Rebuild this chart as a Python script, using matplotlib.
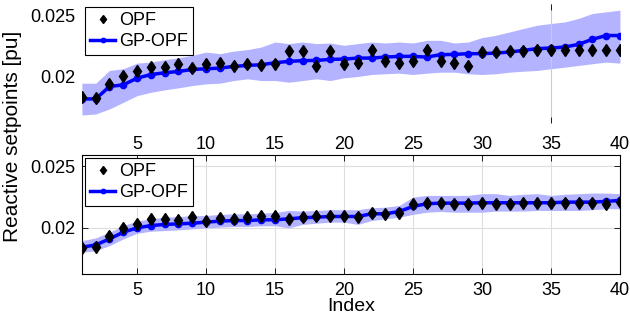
import numpy as np
import matplotlib
matplotlib.use("Agg")
import matplotlib.pyplot as plt

plt.rcParams['font.family'] = ['Liberation Sans', 'DejaVu Sans']

idx = np.arange(1, 41)
xticks = [5, 10, 15, 20, 25, 30, 35, 40]
yticks = [0.02, 0.025]
yticklabels = ['0.02', '0.025']

# upper panel
opf_top = [0.01836, 0.01825, 0.01940, 0.02006, 0.02041, 0.02076, 0.02076, 0.02098, 0.02068, 0.02104,
           0.02109, 0.02082, 0.02104, 0.02093, 0.02104, 0.02205, 0.02208, 0.02088, 0.02208, 0.02104,
           0.02109, 0.02213, 0.02123, 0.02112, 0.02123, 0.02213, 0.02129, 0.02112, 0.02088, 0.02202,
           0.02197, 0.02211, 0.02211, 0.02213, 0.02213, 0.02213, 0.02213, 0.02216, 0.02213, 0.02213]
gp_top = [0.01817, 0.01817, 0.01918, 0.01932, 0.01986, 0.02016, 0.02030, 0.02041, 0.02057, 0.02063,
          0.02068, 0.02082, 0.02090, 0.02096, 0.02112, 0.02123, 0.02129, 0.02131, 0.02139, 0.02142,
          0.02150, 0.02150, 0.02158, 0.02164, 0.02164, 0.02158, 0.02178, 0.02180, 0.02186, 0.02186,
          0.02191, 0.02199, 0.02213, 0.02227, 0.02232, 0.02240, 0.02262, 0.02303, 0.02334, 0.02334]
up_top = [0.01945, 0.01945, 0.02049, 0.02063, 0.02109, 0.02117, 0.02137, 0.02153, 0.02172, 0.02199,
          0.02186, 0.02207, 0.02219, 0.02240, 0.02281, 0.02268, 0.02281, 0.02268, 0.02273, 0.02254,
          0.02268, 0.02281, 0.02273, 0.02281, 0.02273, 0.02295, 0.02295, 0.02273, 0.02281, 0.02317,
          0.02336, 0.02363, 0.02391, 0.02418, 0.02432, 0.02445, 0.02473, 0.02514, 0.02527, 0.02541]
lo_top = [0.01686, 0.01694, 0.01735, 0.01789, 0.01844, 0.01871, 0.01891, 0.01907, 0.01926, 0.01940,
          0.01945, 0.01967, 0.01981, 0.01967, 0.01967, 0.01953, 0.01967, 0.01981, 0.01967, 0.01989,
          0.02000, 0.02016, 0.02022, 0.02027, 0.02016, 0.02027, 0.02035, 0.02035, 0.02022, 0.02016,
          0.02022, 0.02035, 0.02043, 0.02049, 0.02063, 0.02076, 0.02090, 0.02104, 0.02117, 0.02109]

# lower panel
opf_bot = [0.01830, 0.01839, 0.01929, 0.01994, 0.02025, 0.02066, 0.02071, 0.02063, 0.02084, 0.02057,
           0.02076, 0.02071, 0.02084, 0.02090, 0.02090, 0.02071, 0.02084, 0.02096, 0.02098, 0.02093,
           0.02086, 0.02117, 0.02112, 0.02117, 0.02189, 0.02199, 0.02199, 0.02194, 0.02194, 0.02199,
           0.02194, 0.02194, 0.02199, 0.02199, 0.02199, 0.02199, 0.02199, 0.02199, 0.02194, 0.02207]
gp_bot = [0.01839, 0.01858, 0.01907, 0.01962, 0.01997, 0.02016, 0.02025, 0.02030, 0.02035, 0.02044,
          0.02052, 0.02057, 0.02057, 0.02063, 0.02063, 0.02071, 0.02080, 0.02084, 0.02090, 0.02090,
          0.02090, 0.02112, 0.02112, 0.02131, 0.02172, 0.02194, 0.02199, 0.02199, 0.02199, 0.02202,
          0.02202, 0.02202, 0.02202, 0.02202, 0.02202, 0.02207, 0.02207, 0.02207, 0.02213, 0.02221]
up_bot = [0.01893, 0.01915, 0.01962, 0.02016, 0.02052, 0.02071, 0.02084, 0.02090, 0.02096, 0.02098,
          0.02107, 0.02112, 0.02112, 0.02117, 0.02123, 0.02139, 0.02134, 0.02139, 0.02145, 0.02145,
          0.02145, 0.02161, 0.02166, 0.02180, 0.02248, 0.02262, 0.02262, 0.02262, 0.02262, 0.02276,
          0.02276, 0.02262, 0.02271, 0.02276, 0.02262, 0.02271, 0.02276, 0.02281, 0.02281, 0.02276]
lo_bot = [0.01798, 0.01811, 0.01852, 0.01907, 0.01953, 0.01970, 0.01975, 0.01981, 0.01989, 0.01997,
          0.02003, 0.02008, 0.02008, 0.02014, 0.02014, 0.01997, 0.02025, 0.02035, 0.02044, 0.02044,
          0.02025, 0.02057, 0.02071, 0.02084, 0.02107, 0.02125, 0.02131, 0.02125, 0.02125, 0.02125,
          0.02134, 0.02134, 0.02134, 0.02139, 0.02139, 0.02139, 0.02139, 0.02145, 0.02153, 0.02153]

fig = plt.figure(figsize=(6.3, 3.18), dpi=100)
ax1 = fig.add_axes([0.130, 0.613, 0.854, 0.374])
ax2 = fig.add_axes([0.130, 0.138, 0.854, 0.374])

fs = 13
panels = [(ax1, opf_top, gp_top, up_top, lo_top), (ax2, opf_bot, gp_bot, up_bot, lo_bot)]
for ax, opf, gp, up, lo in panels:
    ax.fill_between(idx, lo, up, color=(0.7, 0.7, 1.0), lw=0, zorder=1)
    ax.plot(idx, opf, 'd', color='k', ms=6.5, label='OPF', zorder=4)
    ax.plot(idx, gp, '-o', color='b', lw=2.5, ms=4.5, label='GP-OPF', zorder=3)
    ax.set_xlim(1, 40)
    ax.set_ylim(0.0162, 0.0259)
    ax.set_xticks(xticks)
    ax.set_yticks(yticks)
    ax.set_yticklabels(yticklabels)
    ax.tick_params(labelsize=fs, direction='in', length=4, width=0.6,
                   top=True, right=True)
    ax.tick_params(axis='x', pad=9)
    ax.tick_params(axis='y', pad=5)
    leg = ax.legend(loc='upper left', fontsize=fs, handlelength=1.4, handletextpad=0.2,
                    borderaxespad=0.15, borderpad=0.3, labelspacing=0.2, fancybox=False,
                    framealpha=1, edgecolor='k', markerscale=0.7)
    leg.get_frame().set_linewidth(0.8)

# upper panel: no box, only the grid line at 35 survives
for s in ax1.spines.values():
    s.set_visible(False)
ax1.grid(True, axis='x', color='0.8', lw=0.8)
for t, v in zip(ax1.xaxis.get_major_ticks(), xticks):
    t.gridline.set_visible(v == 35)
    t.tick1line.set_visible(v == 35)
    t.tick2line.set_visible(v == 35)
for t in ax1.yaxis.get_major_ticks():
    t.tick1line.set_visible(False)
    t.tick2line.set_visible(False)

# lower panel: full box with grid
ax2.grid(True, color='0.87', lw=0.8)
ax2.set_axisbelow(True)
for s in ax2.spines.values():
    s.set_linewidth(0.8)
ax2.tick_params(axis='x', pad=6)
ax2.set_xlabel('Index', fontsize=14, labelpad=-1)

fig.text(0.02, 0.57, 'Reactive setpoints [pu]', rotation=90, fontsize=15,
         ha='center', va='center')

fig.savefig('out.png', dpi=100)
